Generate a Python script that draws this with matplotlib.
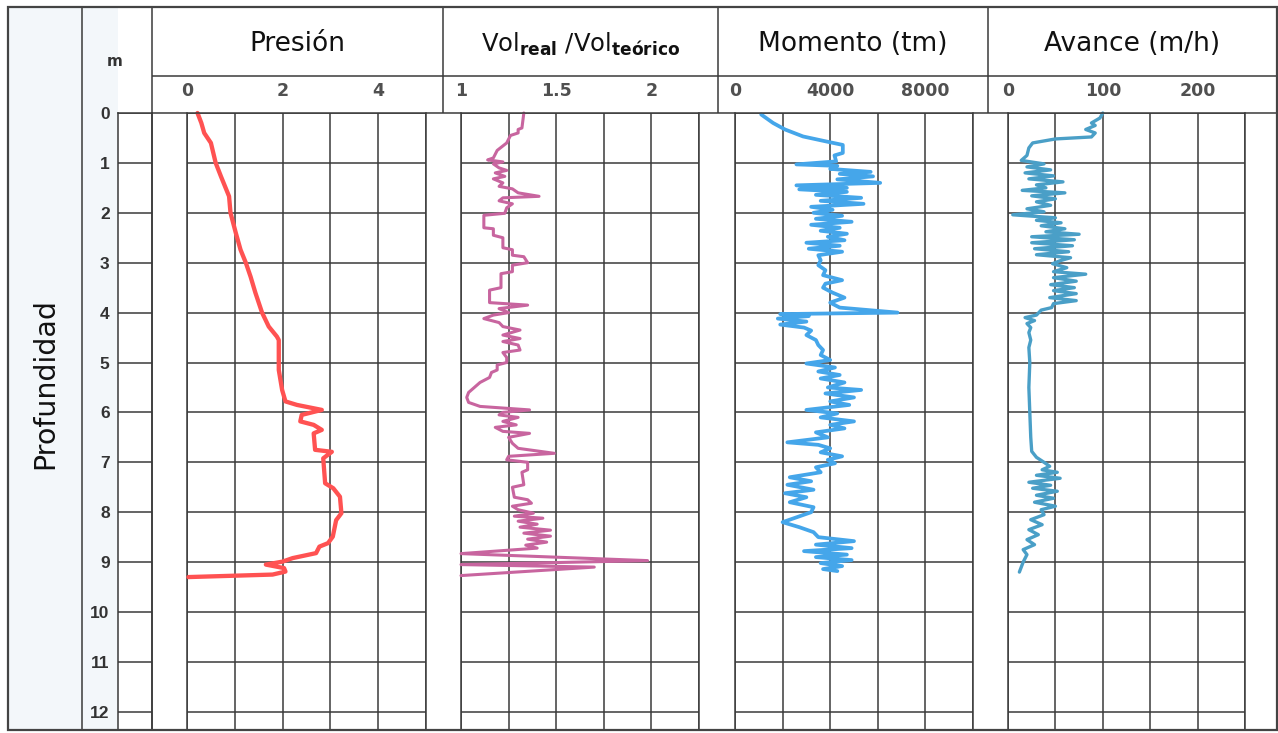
import numpy as np
import matplotlib
matplotlib.use("Agg")
import matplotlib.pyplot as plt
from matplotlib.lines import Line2D
from matplotlib.patches import Rectangle

# ---------------- data ----------------
depth_ticks = list(range(0, 13))

pres_depth = [0.0, 0.2, 0.4, 0.6, 1.0, 1.27, 1.67, 2.0, 2.4, 2.74, 3.0, 3.28, 3.6, 4.0, 4.28,
              4.48, 4.55, 4.81, 5.15, 5.55, 5.78, 5.85, 5.95, 6.05, 6.18, 6.25, 6.35,
              6.42, 6.75, 6.79, 6.92, 7.42, 7.52, 7.69, 8.02, 8.16, 8.49, 8.62, 8.69,
              8.82, 8.92, 8.99, 9.05, 9.12, 9.19, 9.25, 9.3]
pres_val = [0.22, 0.3, 0.36, 0.5, 0.6, 0.71, 0.88, 0.91, 1.02, 1.12, 1.23, 1.33, 1.43, 1.57, 1.71,
            1.88, 1.92, 1.92, 1.92, 1.99, 2.06, 2.3, 2.82, 2.4, 2.37, 2.65, 2.82,
            2.65, 2.68, 3.03, 2.85, 2.89, 3.06, 3.2, 3.23, 3.12, 3.05, 2.95, 2.77,
            2.7, 2.21, 2.0, 1.65, 2.03, 2.06, 1.79, 0.03]

vol_depth = [0.00, 0.30, 0.33, 0.40, 0.45, 0.60, 0.75, 0.90, 0.94, 0.98, 1.02, 1.10, 1.15,
             1.20, 1.27, 1.32, 1.40, 1.47, 1.52, 1.60, 1.67, 1.70, 1.76, 1.82, 1.90, 2.01,
             2.05, 2.30, 2.32, 2.45, 2.50, 2.70, 2.74, 2.85, 2.88, 3.00, 3.05, 3.18, 3.22,
             3.50, 3.55, 3.80, 3.85, 3.92, 4.00, 4.05, 4.12, 4.20, 4.28, 4.35, 4.45, 4.52,
             4.58, 4.65, 4.75, 4.80, 4.90, 5.00, 5.05, 5.15, 5.20, 5.30, 5.40, 5.50, 5.60,
             5.70, 5.80, 5.88, 5.95, 6.00, 6.05, 6.10, 6.18, 6.25, 6.30, 6.38, 6.42, 6.50,
             6.62, 6.72, 6.82, 6.88, 6.95, 7.00, 7.15, 7.20, 7.45, 7.50, 7.70, 7.75, 7.82,
             7.88, 7.95, 8.02, 8.08, 8.12, 8.18, 8.24, 8.30, 8.36, 8.42, 8.48, 8.54, 8.60,
             8.66, 8.72, 8.83, 8.97, 9.05, 9.10, 9.27]
vol_val = [1.33, 1.32, 1.30, 1.30, 1.26, 1.24, 1.19, 1.17, 1.14, 1.22, 1.17, 1.20, 1.24,
           1.18, 1.23, 1.17, 1.22, 1.20, 1.27, 1.30, 1.41, 1.22, 1.20, 1.27, 1.24, 1.23,
           1.12, 1.12, 1.17, 1.17, 1.22, 1.22, 1.27, 1.27, 1.33, 1.35, 1.27, 1.27, 1.21,
           1.21, 1.15, 1.15, 1.35, 1.20, 1.25, 1.17, 1.12, 1.20, 1.22, 1.31, 1.22, 1.31,
           1.22, 1.30, 1.31, 1.22, 1.24, 1.24, 1.19, 1.19, 1.16, 1.15, 1.10, 1.07, 1.04,
           1.03, 1.04, 1.10, 1.36, 1.22, 1.20, 1.30, 1.22, 1.29, 1.18, 1.22, 1.36, 1.25,
           1.27, 1.30, 1.49, 1.25, 1.24, 1.35, 1.35, 1.32, 1.33, 1.27, 1.28, 1.35, 1.37,
           1.27, 1.30, 1.38, 1.28, 1.43, 1.30, 1.40, 1.31, 1.47, 1.33, 1.47, 1.35, 1.45,
           1.34, 1.40, 1.00, 1.98, 1.00, 1.70, 1.00]

mom_depth = [0.03, 0.2, 0.33, 0.47, 0.57, 0.64, 0.80, 0.85, 0.97, 1.03, 1.06, 1.12, 1.18,
             1.22, 1.27, 1.33, 1.40, 1.45, 1.50, 1.53, 1.58, 1.64, 1.70, 1.76, 1.82, 1.88,
             1.94, 2.00, 2.06, 2.12, 2.18, 2.24, 2.30, 2.36, 2.42, 2.48, 2.55, 2.60, 2.66,
             2.72, 2.78, 2.85, 2.95, 3.05, 3.15, 3.25, 3.35, 3.42, 3.50, 3.60, 3.70, 3.80,
             3.90, 4.00, 4.03, 4.07, 4.12, 4.18, 4.24, 4.30, 4.36, 4.45, 4.55, 4.65, 4.75,
             4.85, 4.95, 5.02, 5.10, 5.18, 5.25, 5.32, 5.40, 5.50, 5.55, 5.62, 5.70, 5.78,
             5.85, 5.95, 6.02, 6.10, 6.18, 6.25, 6.32, 6.40, 6.50, 6.60, 6.65, 6.72, 6.80,
             6.88, 6.95, 7.02, 7.10, 7.20, 7.30, 7.38, 7.45, 7.55, 7.62, 7.70, 7.80, 7.90,
             8.00, 8.10, 8.20, 8.30, 8.40, 8.50, 8.58, 8.65, 8.72, 8.78, 8.85, 8.90, 8.96,
             9.02, 9.08, 9.14, 9.18]
mom_val = [1100, 1600, 2100, 2860, 3830, 4530, 4530, 4180, 4250, 2580, 4300, 4000, 5700,
           4400, 5800, 4300, 6100, 2580, 4700, 2700, 4700, 3400, 5300, 3600, 5400, 3200,
           4100, 3300, 4500, 3400, 4900, 3200, 4400, 3600, 4700, 3900, 4600, 3000, 4400,
           3100, 4500, 3500, 3600, 3500, 3800, 3700, 4500, 3800, 3700, 4100, 4600, 4000,
           4400, 6830, 1900, 3100, 1800, 3000, 1900, 2900, 3200, 3000, 3400, 3500, 3700,
           3600, 4000, 3000, 4200, 3500, 4400, 3600, 4600, 3900, 5300, 3800, 5000, 4000,
           4800, 3000, 4300, 3600, 5000, 4000, 4600, 3400, 3900, 2200, 3500, 4000, 3600,
           4500, 3900, 4200, 3400, 3600, 2300, 3200, 2200, 3300, 2100, 3000, 2300, 3300,
           3200, 2600, 2000, 2700, 3300, 3500, 5000, 3400, 4900, 2900, 4700, 3400, 4900,
           3600, 4500, 3700, 4300]

av_depth = [0.00, 0.10, 0.20, 0.25, 0.33, 0.40, 0.48, 0.52, 0.60, 0.70, 0.85, 0.95, 1.02,
            1.08, 1.14, 1.20, 1.26, 1.32, 1.38, 1.44, 1.50, 1.55, 1.60, 1.66, 1.72, 1.78,
            1.85, 1.92, 1.98, 2.04, 2.10, 2.15, 2.20, 2.26, 2.32, 2.38, 2.43, 2.48, 2.54,
            2.60, 2.66, 2.72, 2.78, 2.84, 2.90, 2.96, 3.02, 3.10, 3.18, 3.23, 3.30, 3.37,
            3.44, 3.50, 3.56, 3.62, 3.70, 3.76, 3.82, 3.90, 3.95, 4.05, 4.10, 4.16, 4.22,
            4.30, 4.40, 4.55, 4.70, 5.00, 5.50, 6.00, 6.50, 6.78, 6.90, 7.00, 7.08, 7.15,
            7.20, 7.26, 7.32, 7.40, 7.46, 7.52, 7.58, 7.66, 7.72, 7.80, 7.88, 7.95, 8.05,
            8.15, 8.25, 8.35, 8.45, 8.55, 8.65, 8.75, 8.85, 9.00, 9.10, 9.20]
av_val = [100, 97, 88, 92, 82, 92, 88, 50, 26, 22, 20, 14, 38,
          20, 45, 18, 48, 22, 58, 30, 40, 15, 60, 25, 50, 30,
          45, 20, 38, 5, 50, 30, 56, 35, 60, 40, 75, 25, 70,
          25, 68, 28, 64, 30, 66, 55, 47, 62, 48, 82, 48, 72,
          45, 70, 48, 72, 44, 72, 48, 46, 35, 30, 18, 28, 20,
          24, 22, 24, 22, 23, 22, 23, 24, 25, 30, 38, 44, 36,
          52, 30, 55, 22, 45, 26, 52, 30, 48, 28, 50, 35, 38,
          24, 36, 22, 32, 20, 28, 16, 20, 16, 14, 12]

titles = ["Presión", r"Vol$_{\mathbf{real}}$ /Vol$_{\mathbf{teórico}}$", "Momento (tm)", "Avance (m/h)"]
grid_values = [[0, 1, 2, 3, 4, 5],
               [1, 1.25, 1.5, 1.75, 2, 2.25],
               [0, 2000, 4000, 6000, 8000, 10000],
               [0, 50, 100, 150, 200, 250]]
grid_labels = [["0", "", "2", "", "4", ""],
               ["1", "", "1.5", "", "2", ""],
               ["0", "", "4000", "", "8000", ""],
               ["0", "", "100", "", "200", ""]]
series_depth = [pres_depth, vol_depth, mom_depth, av_depth]
series_val = [pres_val, vol_val, mom_val, av_val]

# ---------------- layout / style ----------------
W, H = 1278, 733
fig = plt.figure(figsize=(W / 100, H / 100), dpi=100)
fig.patch.set_facecolor("white")

def fx(x):
    return x / W

def fy(y):
    return 1 - y / H

LINE_C = "#3a3a3a"

def hline(y, x0, x1, lw=1.1, c=LINE_C):
    fig.add_artist(Line2D([fx(x0), fx(x1)], [fy(y), fy(y)], transform=fig.transFigure,
                          lw=lw, color=c, solid_capstyle="butt"))

def vline(x, y0, y1, lw=1.1, c=LINE_C):
    fig.add_artist(Line2D([fx(x), fx(x)], [fy(y0), fy(y1)], transform=fig.transFigure,
                          lw=lw, color=c, solid_capstyle="butt"))

TOP, HDR_MID, D_TOP, D_BOT = 7, 76, 113, 730
LEFT, RIGHT = 8, 1277
PX_PER_M = 49.9
dmax = (D_BOT - D_TOP) / PX_PER_M

# light tint of left columns
fig.add_artist(Rectangle((fx(LEFT), fy(D_BOT)), fx(118) - fx(LEFT), fy(TOP) - fy(D_BOT),
                         transform=fig.transFigure, facecolor="#f3f7fa", edgecolor="none", zorder=0))

panel_x = [(187, 426), (461, 699), (735, 973), (1008, 1245)]
header_x = [(152, 443), (443, 718), (718, 988), (988, RIGHT)]
colors = ["#ff5252", "#c8659f", "#45a6ea", "#4a9fc7"]
lws = [3.1, 2.2, 2.7, 2.4]
title_sizes = [19, 17.5, 19, 19]

for i in range(4):
    x0, x1 = panel_x[i]
    ax = fig.add_axes([fx(x0), fy(D_BOT), fx(x1) - fx(x0), (D_BOT - D_TOP) / H])
    gv = grid_values[i]
    ax.set_xlim(gv[0], gv[-1])
    ax.set_ylim(dmax, 0)
    ax.set_xticks(gv)
    ax.set_xticklabels(grid_labels[i])
    ax.set_yticks(depth_ticks)
    ax.set_yticklabels([])
    ax.xaxis.set_ticks_position("top")
    ax.tick_params(axis="x", length=0, pad=9, labelsize=12.5, labelcolor="#505050",
                   labeltop=True, labelbottom=False)
    for lab in ax.get_xticklabels():
        lab.set_fontweight("bold")
    ax.tick_params(axis="y", length=0)
    ax.grid(True, color=LINE_C, lw=1.1)
    for s in ["left", "right"]:
        ax.spines[s].set_color(LINE_C)
        ax.spines[s].set_linewidth(1.1)
    ax.spines["top"].set_visible(False)
    ax.spines["bottom"].set_visible(False)
    ax.set_facecolor("white")
    ax.plot(series_val[i], series_depth[i], color=colors[i], lw=lws[i],
            solid_joinstyle="round", solid_capstyle="round", clip_on=False, zorder=3)
    # header title
    hx0, hx1 = header_x[i]
    fig.text(fx((hx0 + hx1) / 2), fy(44), titles[i], ha="center", va="center",
             fontsize=title_sizes[i], color="#111111")

# depth column
axd = fig.add_axes([fx(118), fy(D_BOT), fx(152) - fx(118), (D_BOT - D_TOP) / H])
axd.set_xlim(0, 1)
axd.set_ylim(dmax, 0)
axd.set_yticks(depth_ticks)
axd.set_yticklabels([str(t) for t in depth_ticks])
axd.set_xticks([])
axd.tick_params(axis="y", length=0, pad=6, labelsize=12.5, labelcolor="#333333")
for lab in axd.get_yticklabels():
    lab.set_fontweight("bold")
    lab.set_family("Liberation Sans")
axd.grid(True, axis="y", color=LINE_C, lw=1.1)
for s in ["left", "right"]:
    axd.spines[s].set_color(LINE_C)
    axd.spines[s].set_linewidth(1.1)
axd.spines["top"].set_color(LINE_C)
axd.spines["top"].set_linewidth(1.1)
axd.spines["bottom"].set_visible(False)
axd.set_facecolor("white")

# frame and header lines
vline(82, TOP, D_BOT)
vline(152, TOP, D_BOT)
hline(HDR_MID, 152, RIGHT)
hline(D_TOP, 152, RIGHT)
for xb in [443, 718, 988]:
    vline(xb, TOP, D_TOP)
fig.add_artist(Rectangle((fx(LEFT), fy(D_BOT)), fx(RIGHT) - fx(LEFT), fy(TOP) - fy(D_BOT),
                         transform=fig.transFigure, facecolor="none", edgecolor="#444444",
                         lw=1.6, zorder=5))

fig.text(fx(115), fy(62), "m", ha="center", va="center", fontsize=11, color="#333333",
         fontweight="bold")
fig.text(fx(45), fy(383), "Profundidad", ha="center", va="center", rotation=90,
         fontsize=20.5, color="#111111")

fig.savefig("out.png", dpi=100, facecolor="white")
